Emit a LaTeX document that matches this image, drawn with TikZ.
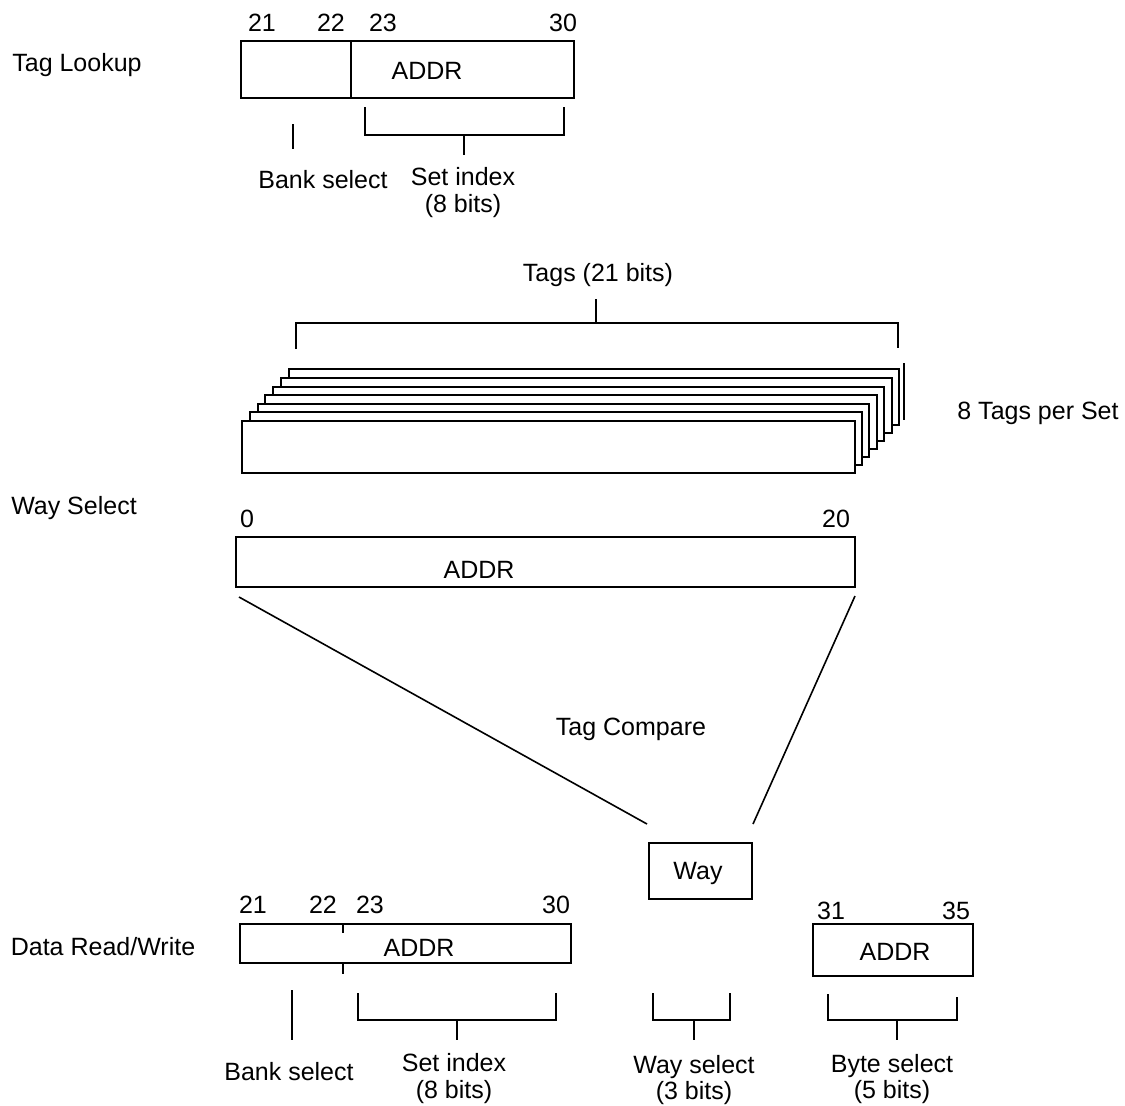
\documentclass[tikz,border=0pt]{standalone}
\usepackage{fontspec}
\setmainfont{Liberation Sans}
\usetikzlibrary{fit,calc}
\begin{document}
\begin{tikzpicture}[x=0.5pt,y=-0.5pt,
  every node/.style={font=\fontsize{12.5}{13.5}\selectfont, inner sep=0pt},
  box/.style={draw, line width=1pt, inner sep=0pt},
  layer/.style={draw, fill=white, line width=1pt, inner sep=0pt},
  ln/.style={line width=1pt},
  diag/.style={line width=0.8pt},
  twoline/.style={align=center, font=\fontsize{12.5}{13.5}\selectfont},
  twotight/.style={align=center, font=\fontsize{12.5}{11}\selectfont}]
\useasboundingbox (0,0) rectangle (1125,1105);

% ---------- Tag Lookup ----------
\node (taglookup) at (77,65) {Tag Lookup};
\node[box, fit={(241,41) (574,98)}] (tlbox) {};
\draw[ln] (351,41) -- (351,98);
\node (t21) at (262,23) {21};
\node (t22) at (331,23) {22};
\node (t23) at (383,23) {23};
\node (t30) at (563,23) {30};
\node (taddr) at (427,71) {ADDR};
\draw[ln] (293,124) -- (293,149);
\draw[ln] (365,107) |- (564,135) -- (564,107);
\draw[ln] (464,135) -- (464,155);
\node (tbank) at (323,180) {Bank select};
\node[twoline] (tset) at (463,193) {Set index\\(8 bits)};

% ---------- Tags stack ----------
\node (tags) at (598,275) {Tags (21 bits)};
\draw[ln] (296,349) |- (898,323) -- (898,348);
\draw[ln] (596,299) -- (596,323);
\draw[ln] (904,363) -- (904,420);
\foreach \k in {6,5,4,3,2,1,0}{
  \node[layer, fit={({242+7.8*\k},{421-8.6*\k}) ({854.5+7.4*\k},{473-8*\k})}] (layer\k) {};
}
\node (perset) at (1038,413) {8 Tags per Set};

% ---------- Way Select ----------
\node (wayselect) at (74,508) {Way Select};
\node[box, fit={(236,537) (855,587)}] (wsbox) {};
\node (w0) at (247,519) {0};
\node (w20) at (836,519) {20};
\node (waddr) at (479,570) {ADDR};
\node (tagcompare) at (631,729) {Tag Compare};
\node[box, fit={(649,843) (752,899)}] (way) {};
\node (waytext) at (698,873) {Way};
\draw[diag] ($(wsbox.south west)+(4,9)$) -- ($(way.north west)+(-1,-18)$);
\draw[diag] ($(wsbox.south east)+(-1,8)$) -- ($(way.north east)+(0,-18)$);

% ---------- Data Read/Write ----------
\node (datarw) at (103,947) {Data Read/Write};
\node[box, fit={(240,924) (571,963)}] (dbox) {};
\draw[ln] (343,924) -- (343,933);
\draw[ln] (343,963) -- (343,974);
\node (d21) at (253,905) {21};
\node (d22) at (323,905) {22};
\node (d23) at (370,905) {23};
\node (d30) at (556,905) {30};
\node (daddr) at (419,948) {ADDR};

\node[box, fit={(813,924) (973,976)}] (bbox) {};
\node (b31) at (831,911) {31};
\node (b35) at (956,911) {35};
\node (baddr) at (895,952) {ADDR};

\draw[ln] (292,990) -- (292,1040);
\draw[ln] (358,993) |- (556,1020) -- (556,993);
\draw[ln] (457,1020) -- (457,1040);
\draw[ln] (653,993) |- (730,1020) -- (730,993);
\draw[ln] (694,1020) -- (694,1040);
\draw[ln] (828,994) |- (957,1020) -- (957,997);
\draw[ln] (897,1020) -- (897,1040);

\node (dbank) at (289,1072) {Bank select};
\node[twoline] (dset) at (454,1079) {Set index\\(8 bits)};
\node[twotight] (dway) at (694,1080) {Way select\\(3 bits)};
\node[twotight] (dbyte) at (892,1079) {Byte select\\(5 bits)};
\end{tikzpicture}
\end{document}
